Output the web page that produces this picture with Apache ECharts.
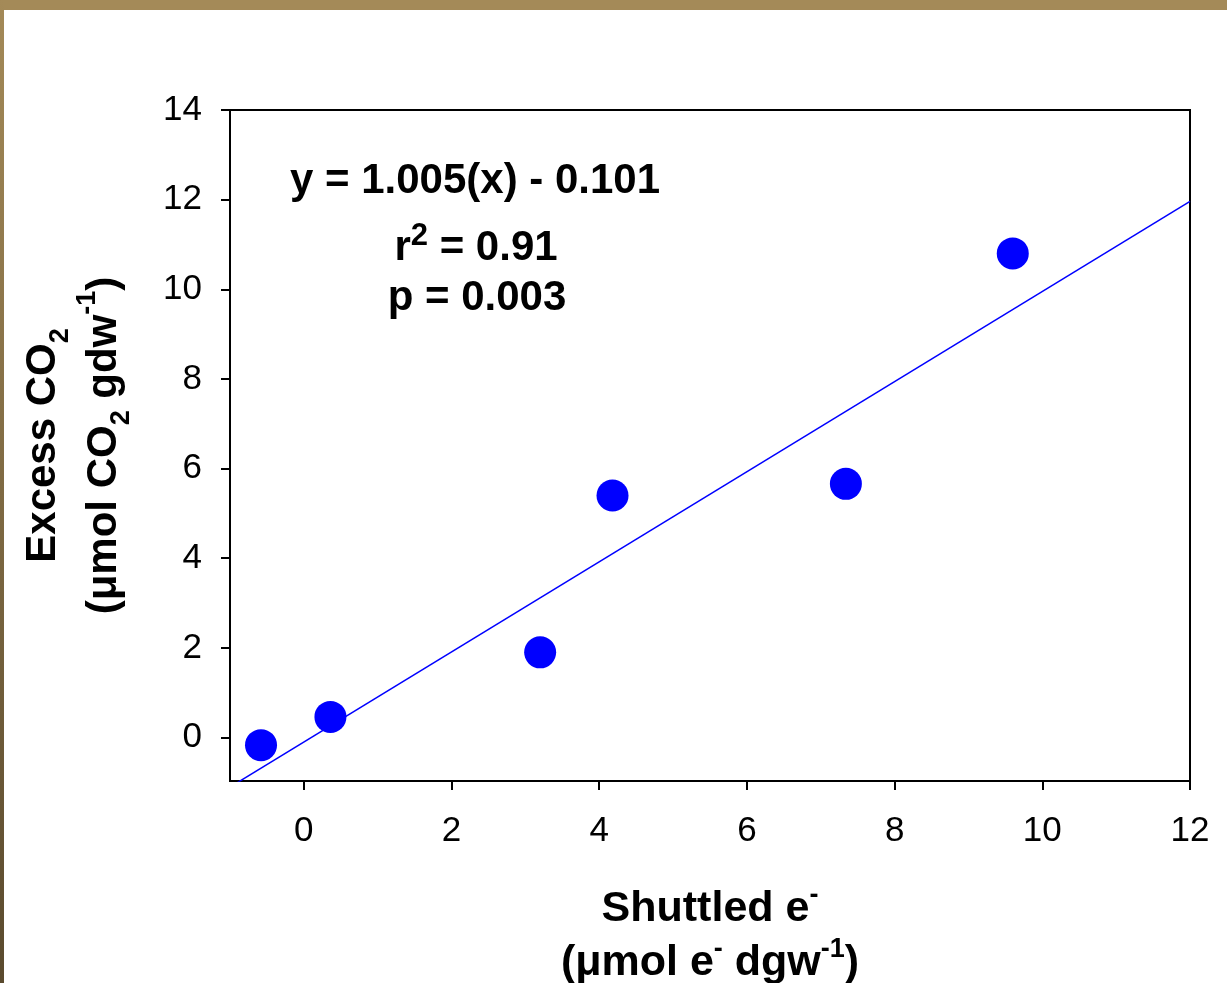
<!DOCTYPE html>
<html>
<head>
<meta charset="utf-8">
<script src="https://cdn.jsdelivr.net/npm/echarts@6/dist/echarts.min.js"></script>
<style>
  html, body { margin: 0; padding: 0; background: #fff; overflow: hidden; }
  #chart { width: 1227px; height: 983px; }
</style>
</head>
<body>
<div id="chart"></div>
<script>
var chart = echarts.init(document.getElementById('chart'));

var shuttled = [-0.58, 0.36, 3.20, 4.18, 7.34, 9.60];
var excessCO2 = [-0.17, 0.46, 1.90, 5.40, 5.66, 10.80];

// regression line ends (y = 1.005x - 0.101)
var fitX = [-1, 12];
var fitY = [-1.106, 11.959];

var xTicks = [0, 2, 4, 6, 8, 10, 12];
var yTicks = [0, 2, 4, 6, 8, 10, 12, 14];

var FONT = '"Liberation Sans", Arial, sans-serif';

function nameRich(size, lh) {
  return {
    b: { fontSize: size, fontWeight: 'bold', fontFamily: FONT, color: '#000', lineHeight: lh },
    sub: { fontSize: 27, fontWeight: 'bold', fontFamily: FONT, color: '#000', lineHeight: 27, verticalAlign: 'bottom' },
    sup: { fontSize: 27, fontWeight: 'bold', fontFamily: FONT, color: '#000', lineHeight: 27, verticalAlign: 'top' }
  };
}

var option = {
  animation: false,
  backgroundColor: '#fff',
  grid: {
    left: 230, right: 37, top: 110, bottom: 202,
    outerBoundsMode: 'none',
    show: true, borderColor: '#000', borderWidth: 2
  },
  xAxis: {
    type: 'value', min: -1, max: 12,
    name: '{b|Shuttled e}{sup|-}\n{b|(μmol e}{sup|-}{b| dgw}{sup|-1}{b|)}',
    nameLocation: 'middle', nameGap: 101,
    nameTextStyle: { rich: nameRich(43, 54) },
    axisLine: { onZero: false, lineStyle: { color: '#000', width: 2 } },
    axisTick: { show: true, inside: false, length: 9, lineStyle: { color: '#000', width: 2 }, customValues: xTicks },
    axisLabel: { customValues: xTicks, fontSize: 35, fontFamily: FONT, color: '#000', margin: 33 },
    splitLine: { show: false }
  },
  yAxis: {
    type: 'value', min: -0.97, max: 14,
    name: '{b|Excess CO}{sub|2}\n{b|(μmol CO}{sub|2}{b| gdw}{sup|-1}{b|)}',
    nameLocation: 'middle', nameGap: 95, nameRotate: 90,
    nameTextStyle: { rich: nameRich(42, 61) },
    axisLine: { onZero: false, lineStyle: { color: '#000', width: 2 } },
    axisTick: { show: true, inside: false, length: 9, lineStyle: { color: '#000', width: 2 }, customValues: yTicks },
    axisLabel: { customValues: yTicks, fontSize: 35, fontFamily: FONT, color: '#000', margin: 28 },
    splitLine: { show: false }
  },
  graphic: [
    { type: 'rect', shape: { x: 0, y: 0, width: 1227, height: 10 }, style: { fill: '#a48a58' }, z: 100 },
    {
      type: 'rect', shape: { x: 0, y: 0, width: 4, height: 983 },
      style: {
        fill: new echarts.graphic.LinearGradient(0, 0, 0, 1, [
          { offset: 0, color: '#a48a58' },
          { offset: 1, color: '#5a4a2e' }
        ])
      },
      z: 100
    },
    {
      type: 'text', x: 475, y: 181,
      style: { text: 'y = 1.005(x) - 0.101', font: 'bold 42px ' + FONT, fill: '#000', align: 'center', verticalAlign: 'middle' }
    },
    {
      type: 'text', x: 476, y: 248,
      style: {
        text: '{b|r}{sup|2}{b| = 0.91}', align: 'center', verticalAlign: 'middle',
        rich: {
          b: { fontSize: 42, fontWeight: 'bold', fontFamily: FONT, fill: '#000', lineHeight: 54 },
          sup: { fontSize: 31, fontWeight: 'bold', fontFamily: FONT, fill: '#000', lineHeight: 31, verticalAlign: 'top' }
        }
      }
    },
    {
      type: 'text', x: 477, y: 298,
      style: { text: 'p = 0.003', font: 'bold 42px ' + FONT, fill: '#000', align: 'center', verticalAlign: 'middle' }
    }
  ],
  series: [
    {
      type: 'line',
      data: fitX.map(function (x, i) { return [x, fitY[i]]; }),
      showSymbol: false,
      clip: true,
      lineStyle: { color: '#0000ff', width: 1.5 },
      z: 2
    },
    {
      type: 'scatter',
      data: shuttled.map(function (x, i) { return [x, excessCO2[i]]; }),
      symbolSize: 32,
      itemStyle: { color: '#0000ff', opacity: 1 },
      z: 3
    }
  ]
};

chart.setOption(option);
</script>
</body>
</html>
